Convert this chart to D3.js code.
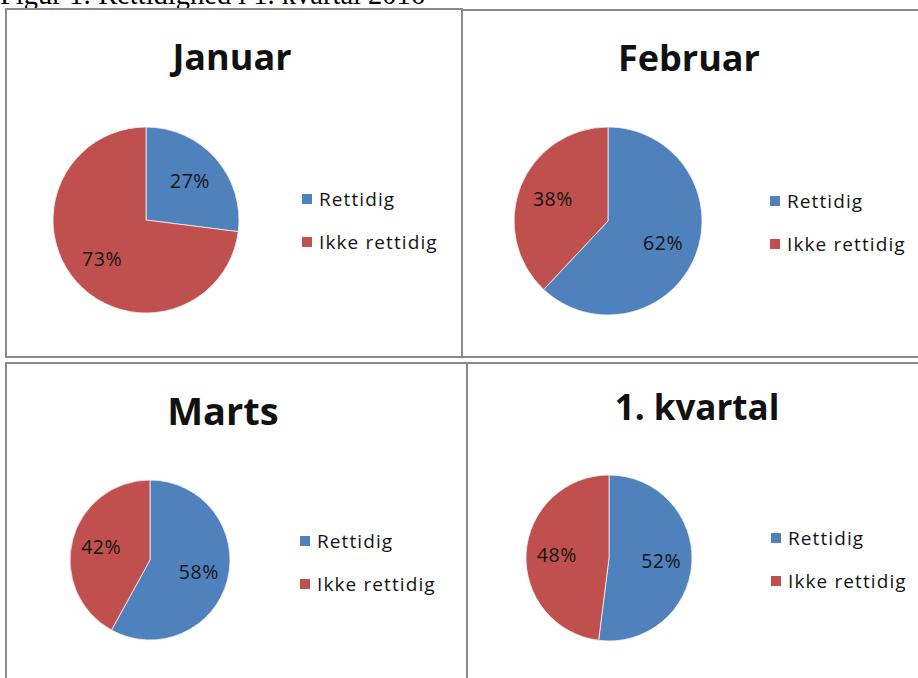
<!DOCTYPE html>
<html>
<head>
<meta charset="utf-8">
<script src="https://cdn.jsdelivr.net/npm/d3@7"></script>
<style>
  body { margin: 0; background: #fff; }
  svg { display: block; }
</style>
</head>
<body>
<script>
'use strict'

// data
const figureTitle = "Figur 1: Rettidighed i 1. kvartal 2016"
const months = ["Januar", "Februar", "Marts", "1. kvartal"]
const categories = ["Rettidig", "Ikke rettidig"]
const rettidig = [27, 62, 58, 52]
const ikkeRettidig = [73, 38, 42, 48]

const colors = d3.scaleOrdinal().domain(categories).range(["#4F81BD", "#C0504D"])

// panel boxes (position of each pasted chart)
const boxes = [
    {x: 6,   y: 9,   w: 456, h: 348, cx: 146, cy: 220, r: 93, tx: 232, ty: 70,  ts: 36, lx: 302, ly: 199},
    {x: 462, y: 10,  w: 458, h: 347, cx: 608, cy: 221, r: 94, tx: 689, ty: 71,  ts: 36, lx: 770, ly: 201},
    {x: 6,   y: 363, w: 461, h: 330, cx: 150, cy: 560, r: 80, tx: 223, ty: 425, ts: 38, lx: 300, ly: 541},
    {x: 467, y: 363, w: 453, h: 330, cx: 609, cy: 558, r: 83, tx: 697, ty: 420, ts: 35, lx: 771, ly: 538}
]

const svg = d3.select('body').append('svg')
    .attr('width', 918)
    .attr('height', 678)

// caption, cut off at the top like the scan
svg.append('text')
    .attr('x', 0)
    .attr('y', 4)
    .attr('font-family', 'Liberation Serif')
    .attr('font-size', 28.5)
    .attr('fill', '#000')
    .text(figureTitle)

const pie = d3.pie().sort(null).value(d => d.value)

months.forEach((m, i) => {
    const b = boxes[i]
    const data = categories.map((c, j) => ({key: c, value: j == 0 ? rettidig[i] : ikkeRettidig[i]}))
    const g = svg.append('g')

    g.append('rect')
        .attr('x', b.x)
        .attr('y', b.y)
        .attr('width', b.w)
        .attr('height', b.h)
        .attr('fill', 'none')
        .attr('stroke', '#8a8a8a')
        .attr('stroke-width', 2)

    g.append('text')
        .attr('x', b.tx)
        .attr('y', b.ty)
        .attr('text-anchor', 'middle')
        .attr('font-family', 'Open Sans')
        .attr('font-weight', 'bold')
        .attr('font-size', b.ts)
        .attr('fill', '#111')
        .text(m)

    const arcs = pie(data)
    const arc = d3.arc().innerRadius(0).outerRadius(b.r)

    g.append('g')
        .attr('transform', `translate(${b.cx},${b.cy})`)
      .selectAll('path')
        .data(arcs)
        .join('path')
        .attr('fill', d => colors(d.data.key))
        .attr('stroke', '#f2f2f2')
        .attr('stroke-width', 0.8)
        .attr('d', arc)

    const labelArc = d3.arc().innerRadius(b.r * 0.63).outerRadius(b.r * 0.63)
    g.append('g')
      .selectAll('text')
        .data(arcs)
        .join('text')
        .attr('x', d => b.cx + labelArc.centroid(d)[0])
        .attr('y', d => b.cy + labelArc.centroid(d)[1])
        .attr('dy', '0.35em')
        .attr('text-anchor', 'middle')
        .attr('font-family', 'Open Sans')
        .attr('font-size', 19.5)
        .attr('letter-spacing', 0.5)
        .attr('fill', '#141414')
        .text(d => d.data.value + '%')

    // legend
    const leg = g.append('g')
      .selectAll('g')
        .data(categories)
        .join('g')
        .attr('transform', (d, j) => `translate(${b.lx},${b.ly + j * 43})`)

    leg.append('rect')
        .attr('x', 0)
        .attr('y', -5)
        .attr('width', 10)
        .attr('height', 10)
        .attr('fill', d => colors(d))

    leg.append('text')
        .attr('x', 17)
        .attr('dy', '0.35em')
        .attr('font-family', 'Open Sans')
        .attr('font-size', 19)
        .attr('letter-spacing', 1.1)
        .attr('fill', '#141414')
        .text(d => d)
})
</script>
</body>
</html>
